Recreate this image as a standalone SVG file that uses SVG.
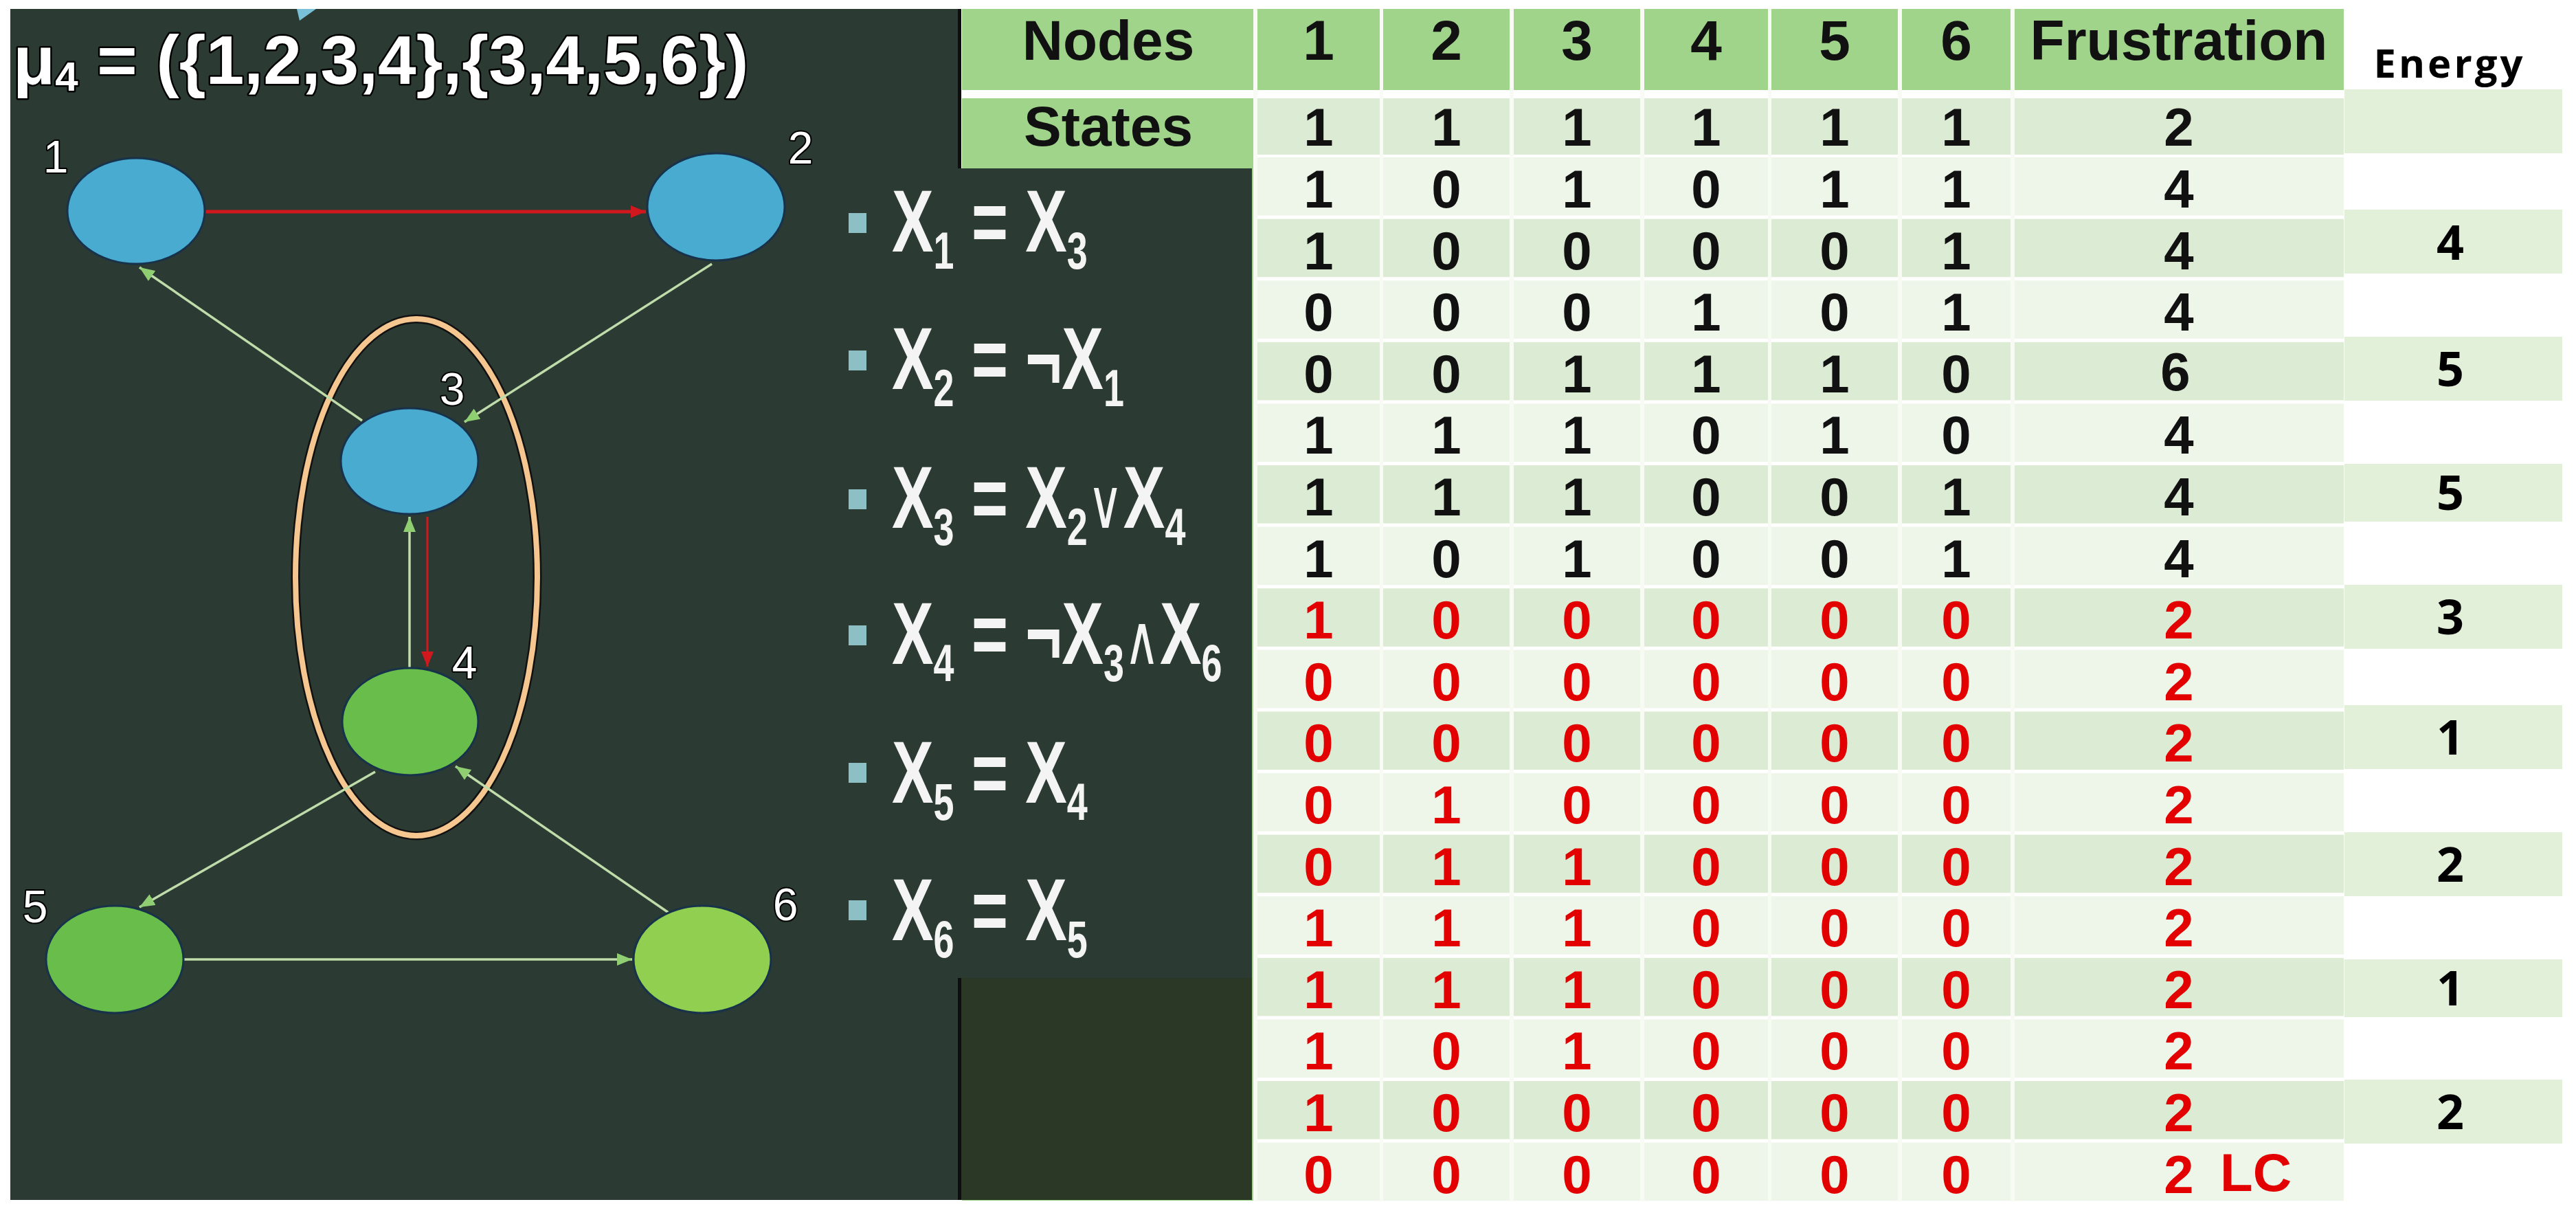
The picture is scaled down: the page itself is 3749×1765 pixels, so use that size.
<svg xmlns="http://www.w3.org/2000/svg" width="3749" height="1765" viewBox="0 0 3749 1765">
<defs>
<style>
.panel{fill:#2b3a33}
.nb{fill:#4aabd0;stroke:#17324a;stroke-width:3}
.ng{fill:#69bd4a;stroke:#17324a;stroke-width:3}
.ng2{fill:#91cf50;stroke:#17324a;stroke-width:3}
.nl{font-family:"Liberation Sans",Arial,sans-serif;font-size:66px;fill:#fff;stroke:#000;stroke-width:4;paint-order:stroke;stroke-linejoin:round;text-anchor:middle}
.title{font-family:"Liberation Sans",Arial,sans-serif;font-weight:bold;font-size:100px;fill:#fff;stroke:#000;stroke-width:5;paint-order:stroke;stroke-linejoin:round}
.eg{fill:none;stroke:#bfdcaa;stroke-width:3.5}
.er{fill:none;stroke:#d0181e}
.bul{font-family:"Liberation Sans",Arial,"DejaVu Sans",sans-serif;font-weight:bold;font-size:128px;fill:#f4f4f4}
.sb{font-size:76px}
.op{font-size:100px;font-weight:normal;font-family:"DejaVu Sans",sans-serif}
.bq{fill:#8dc0c4}
.hd{fill:#a0d48b}
.rl{fill:#eef6ea}
.rd{fill:#dcebd3}
.vl{fill:#f7fbf4}
.t{font-family:"Liberation Sans",Arial,sans-serif;font-weight:bold;font-size:78px;text-anchor:middle;fill:#111}
.h{font-size:82px}
.r{fill:#e30000}
.en{fill:#e2efd9}
.et{font-family:"Open Sans","Noto Sans",sans-serif;font-weight:bold;text-anchor:middle;fill:#000;font-size:70px}
</style>
<marker id="ag" viewBox="0 0 22 18" refX="22" refY="9" markerWidth="22" markerHeight="18" markerUnits="userSpaceOnUse" orient="auto"><path d="M0,0 L22,9 L0,18 z" fill="#8fcf72"/></marker>
<marker id="ar" viewBox="0 0 22 18" refX="22" refY="9" markerWidth="22" markerHeight="18" markerUnits="userSpaceOnUse" orient="auto"><path d="M0,0 L22,9 L0,18 z" fill="#d0181e"/></marker>
</defs>
<rect x="0" y="0" width="3749" height="1765" fill="#fff"/>

<g id="table">
<rect class="hd" x="1400" y="13" width="2011" height="118"/>
<rect class="rd" x="1400" y="143" width="2011" height="82"/>
<rect class="rl" x="1400" y="229" width="2011" height="84.6"/>
<rect class="rd" x="1400" y="318.6" width="2011" height="84.6"/>
<rect class="rl" x="1400" y="408.2" width="2011" height="84.6"/>
<rect class="rd" x="1400" y="497.8" width="2011" height="84.6"/>
<rect class="rl" x="1400" y="587.4" width="2011" height="84.6"/>
<rect class="rd" x="1400" y="677" width="2011" height="84.6"/>
<rect class="rl" x="1400" y="766.6" width="2011" height="84.6"/>
<rect class="rd" x="1400" y="856.2" width="2011" height="84.6"/>
<rect class="rl" x="1400" y="945.8" width="2011" height="84.6"/>
<rect class="rd" x="1400" y="1035.4" width="2011" height="84.6"/>
<rect class="rl" x="1400" y="1125" width="2011" height="84.6"/>
<rect class="rd" x="1400" y="1214.6" width="2011" height="84.6"/>
<rect class="rl" x="1400" y="1304.2" width="2011" height="84.6"/>
<rect class="rd" x="1400" y="1393.8" width="2011" height="84.6"/>
<rect class="rl" x="1400" y="1483.4" width="2011" height="84.6"/>
<rect class="rd" x="1400" y="1573" width="2011" height="84.6"/>
<rect class="rl" x="1400" y="1662.6" width="2011" height="84.6"/>
<rect class="hd" x="1400" y="143" width="424" height="1604"/>
<rect class="vl" x="1824" y="13" width="6" height="1735"/>
<rect class="vl" x="2008" y="13" width="5" height="1735"/>
<rect class="vl" x="2197" y="13" width="6" height="1735"/>
<rect class="vl" x="2387" y="13" width="6" height="1735"/>
<rect class="vl" x="2573" y="13" width="5" height="1735"/>
<rect class="vl" x="2762" y="13" width="6" height="1735"/>
<rect class="vl" x="2926" y="13" width="6" height="1735"/>

<text class="t h" x="1613" y="87">Nodes</text>
<text class="t h" x="1919" y="87">1</text>
<text class="t h" x="2105" y="87">2</text>
<text class="t h" x="2295" y="87">3</text>
<text class="t h" x="2483" y="87">4</text>
<text class="t h" x="2670" y="87">5</text>
<text class="t h" x="2847" y="87">6</text>
<text class="t h" x="3171" y="87">Frustration</text>

<text class="t h" x="1613" y="212">States</text>
<g><text class="t" x="1919" y="212">1</text><text class="t" x="2105" y="212">1</text><text class="t" x="2295" y="212">1</text><text class="t" x="2483" y="212">1</text><text class="t" x="2670" y="212">1</text><text class="t" x="2847" y="212">1</text><text class="t" x="3171" y="212">2</text></g>
<g><text class="t" x="1919" y="302">1</text><text class="t" x="2105" y="302">0</text><text class="t" x="2295" y="302">1</text><text class="t" x="2483" y="302">0</text><text class="t" x="2670" y="302">1</text><text class="t" x="2847" y="302">1</text><text class="t" x="3171" y="302">4</text></g>
<g><text class="t" x="1919" y="391.6">1</text><text class="t" x="2105" y="391.6">0</text><text class="t" x="2295" y="391.6">0</text><text class="t" x="2483" y="391.6">0</text><text class="t" x="2670" y="391.6">0</text><text class="t" x="2847" y="391.6">1</text><text class="t" x="3171" y="391.6">4</text></g>
<g><text class="t" x="1919" y="481.2">0</text><text class="t" x="2105" y="481.2">0</text><text class="t" x="2295" y="481.2">0</text><text class="t" x="2483" y="481.2">1</text><text class="t" x="2670" y="481.2">0</text><text class="t" x="2847" y="481.2">1</text><text class="t" x="3171" y="481.2">4</text></g>
<g><text class="t" x="1919" y="570.8">0</text><text class="t" x="2105" y="570.8">0</text><text class="t" x="2295" y="570.8">1</text><text class="t" x="2483" y="570.8">1</text><text class="t" x="2670" y="570.8">1</text><text class="t" x="2847" y="570.8">0</text><text class="t" x="3166" y="568">6</text></g>
<g><text class="t" x="1919" y="660.4">1</text><text class="t" x="2105" y="660.4">1</text><text class="t" x="2295" y="660.4">1</text><text class="t" x="2483" y="660.4">0</text><text class="t" x="2670" y="660.4">1</text><text class="t" x="2847" y="660.4">0</text><text class="t" x="3171" y="660.4">4</text></g>
<g><text class="t" x="1919" y="750">1</text><text class="t" x="2105" y="750">1</text><text class="t" x="2295" y="750">1</text><text class="t" x="2483" y="750">0</text><text class="t" x="2670" y="750">0</text><text class="t" x="2847" y="750">1</text><text class="t" x="3171" y="750">4</text></g>
<g><text class="t" x="1919" y="839.6">1</text><text class="t" x="2105" y="839.6">0</text><text class="t" x="2295" y="839.6">1</text><text class="t" x="2483" y="839.6">0</text><text class="t" x="2670" y="839.6">0</text><text class="t" x="2847" y="839.6">1</text><text class="t" x="3171" y="839.6">4</text></g>
<g><text class="t r" x="1919" y="929.2">1</text><text class="t r" x="2105" y="929.2">0</text><text class="t r" x="2295" y="929.2">0</text><text class="t r" x="2483" y="929.2">0</text><text class="t r" x="2670" y="929.2">0</text><text class="t r" x="2847" y="929.2">0</text><text class="t r" x="3171" y="929.2">2</text></g>
<g><text class="t r" x="1919" y="1018.8">0</text><text class="t r" x="2105" y="1018.8">0</text><text class="t r" x="2295" y="1018.8">0</text><text class="t r" x="2483" y="1018.8">0</text><text class="t r" x="2670" y="1018.8">0</text><text class="t r" x="2847" y="1018.8">0</text><text class="t r" x="3171" y="1018.8">2</text></g>
<g><text class="t r" x="1919" y="1108.4">0</text><text class="t r" x="2105" y="1108.4">0</text><text class="t r" x="2295" y="1108.4">0</text><text class="t r" x="2483" y="1108.4">0</text><text class="t r" x="2670" y="1108.4">0</text><text class="t r" x="2847" y="1108.4">0</text><text class="t r" x="3171" y="1108.4">2</text></g>
<g><text class="t r" x="1919" y="1198">0</text><text class="t r" x="2105" y="1198">1</text><text class="t r" x="2295" y="1198">0</text><text class="t r" x="2483" y="1198">0</text><text class="t r" x="2670" y="1198">0</text><text class="t r" x="2847" y="1198">0</text><text class="t r" x="3171" y="1198">2</text></g>
<g><text class="t r" x="1919" y="1287.6">0</text><text class="t r" x="2105" y="1287.6">1</text><text class="t r" x="2295" y="1287.6">1</text><text class="t r" x="2483" y="1287.6">0</text><text class="t r" x="2670" y="1287.6">0</text><text class="t r" x="2847" y="1287.6">0</text><text class="t r" x="3171" y="1287.6">2</text></g>
<g><text class="t r" x="1919" y="1377.2">1</text><text class="t r" x="2105" y="1377.2">1</text><text class="t r" x="2295" y="1377.2">1</text><text class="t r" x="2483" y="1377.2">0</text><text class="t r" x="2670" y="1377.2">0</text><text class="t r" x="2847" y="1377.2">0</text><text class="t r" x="3171" y="1377.2">2</text></g>
<g><text class="t r" x="1919" y="1466.8">1</text><text class="t r" x="2105" y="1466.8">1</text><text class="t r" x="2295" y="1466.8">1</text><text class="t r" x="2483" y="1466.8">0</text><text class="t r" x="2670" y="1466.8">0</text><text class="t r" x="2847" y="1466.8">0</text><text class="t r" x="3171" y="1466.8">2</text></g>
<g><text class="t r" x="1919" y="1556.4">1</text><text class="t r" x="2105" y="1556.4">0</text><text class="t r" x="2295" y="1556.4">1</text><text class="t r" x="2483" y="1556.4">0</text><text class="t r" x="2670" y="1556.4">0</text><text class="t r" x="2847" y="1556.4">0</text><text class="t r" x="3171" y="1556.4">2</text></g>
<g><text class="t r" x="1919" y="1646">1</text><text class="t r" x="2105" y="1646">0</text><text class="t r" x="2295" y="1646">0</text><text class="t r" x="2483" y="1646">0</text><text class="t r" x="2670" y="1646">0</text><text class="t r" x="2847" y="1646">0</text><text class="t r" x="3171" y="1646">2</text></g>
<g><text class="t r" x="1919" y="1735.6">0</text><text class="t r" x="2105" y="1735.6">0</text><text class="t r" x="2295" y="1735.6">0</text><text class="t r" x="2483" y="1735.6">0</text><text class="t r" x="2670" y="1735.6">0</text><text class="t r" x="2847" y="1735.6">0</text><text class="t r" x="3171" y="1735.6">2</text></g>
<text class="t r" x="3231" y="1733" style="text-anchor:start;font-size:78px">LC</text>
</g>

<g id="energy">
<text class="et" x="3565" y="113" style="font-size:58px;letter-spacing:4px">Energy</text>
<rect class="en" x="3412" y="130" width="317" height="93"/>
<rect class="en" x="3412" y="305" width="317" height="93"/>
<rect class="en" x="3412" y="490" width="317" height="93"/>
<rect class="en" x="3412" y="675" width="317" height="84"/>
<rect class="en" x="3412" y="851" width="317" height="93"/>
<rect class="en" x="3412" y="1026" width="317" height="93"/>
<rect class="en" x="3412" y="1211" width="317" height="93"/>
<rect class="en" x="3412" y="1396" width="317" height="84"/>
<rect class="en" x="3412" y="1571" width="317" height="93"/>
<text class="et" x="3566" y="378">4</text>
<text class="et" x="3566" y="562">5</text>
<text class="et" x="3566" y="742">5</text>
<text class="et" x="3566" y="923">3</text>
<text class="et" x="3566" y="1098">1</text>
<text class="et" x="3566" y="1283">2</text>
<text class="et" x="3566" y="1463">1</text>
<text class="et" x="3566" y="1643">2</text>
</g>

<g id="panels">
<rect class="panel" x="15" y="13" width="1381" height="1733"/>
<rect x="1394" y="13" width="5" height="1733" fill="#0c0f0d"/>
<rect class="panel" x="1150" y="245" width="672" height="1178"/>
<rect x="1399" y="1423" width="423" height="323" fill="#2b3826"/>
<polygon points="432,13 460,13 436,30" fill="#79c1d8"/>
</g>

<text class="title" x="19" y="122">μ<tspan style="font-size:60px" dy="10">4</tspan><tspan dy="-10"> = ({1,2,3,4},{3,4,5,6})</tspan></text>

<g id="bullets">
<rect class="bq" x="1235" y="310" width="26" height="29"/>
<rect class="bq" x="1235" y="510" width="26" height="29"/>
<rect class="bq" x="1235" y="712" width="26" height="29"/>
<rect class="bq" x="1235" y="910" width="26" height="29"/>
<rect class="bq" x="1235" y="1110" width="26" height="29"/>
<rect class="bq" x="1235" y="1310" width="26" height="29"/>
<text class="bul" transform="translate(1298,366) scale(0.71,1)">X<tspan class="sb" dy="25">1</tspan><tspan dy="-25"> = X</tspan><tspan class="sb" dy="25">3</tspan></text>
<text class="bul" transform="translate(1298,566) scale(0.71,1)">X<tspan class="sb" dy="25">2</tspan><tspan dy="-25"> = ¬X</tspan><tspan class="sb" dy="25">1</tspan></text>
<text class="bul" transform="translate(1298,768) scale(0.71,1)">X<tspan class="sb" dy="25">3</tspan><tspan dy="-25"> = X</tspan><tspan class="sb" dy="25">2</tspan><tspan class="op" dy="-25">∨</tspan><tspan>X</tspan><tspan class="sb" dy="25">4</tspan></text>
<text class="bul" transform="translate(1298,966) scale(0.71,1)">X<tspan class="sb" dy="25">4</tspan><tspan dy="-25"> = ¬X</tspan><tspan class="sb" dy="25">3</tspan><tspan class="op" dy="-25">∧</tspan><tspan>X</tspan><tspan class="sb" dy="25">6</tspan></text>
<text class="bul" transform="translate(1298,1168) scale(0.71,1)">X<tspan class="sb" dy="25">5</tspan><tspan dy="-25"> = X</tspan><tspan class="sb" dy="25">4</tspan></text>
<text class="bul" transform="translate(1298,1368) scale(0.71,1)">X<tspan class="sb" dy="25">6</tspan><tspan dy="-25"> = X</tspan><tspan class="sb" dy="25">5</tspan></text>
</g>

<g id="group-ellipse">
<ellipse cx="606" cy="840" rx="176" ry="376" fill="none" stroke="#111" stroke-width="13"/>
<ellipse cx="606" cy="840" rx="176" ry="376" fill="none" stroke="#f6c690" stroke-width="8"/>
</g>

<g id="connectors">
<path class="er" d="M299,308 L940,308" stroke-width="5" marker-end="url(#ar)"/>
<path class="eg" d="M527,612 L203,389" marker-end="url(#ag)"/>
<path class="eg" d="M1036,384 L676,614" marker-end="url(#ag)"/>
<path class="eg" d="M596,972 L596,752" marker-end="url(#ag)"/>
<path class="er" d="M622,752 L622,970" stroke-width="3" marker-end="url(#ar)"/>
<path class="eg" d="M546,1123 L203,1320" marker-end="url(#ag)"/>
<path class="eg" d="M973,1328 L663,1115" marker-end="url(#ag)"/>
<path class="eg" d="M268,1396 L920,1396" marker-end="url(#ag)"/>
</g>

<g id="node1"><ellipse class="nb" cx="198" cy="307" rx="100" ry="77"/><text class="nl" x="81" y="251">1</text></g>
<g id="node2"><ellipse class="nb" cx="1042" cy="301" rx="100" ry="78"/><text class="nl" x="1165" y="238">2</text></g>
<g id="node3"><ellipse class="nb" cx="596" cy="671" rx="100" ry="77"/><text class="nl" x="658" y="589">3</text></g>
<g id="node4"><ellipse class="ng" cx="597" cy="1050" rx="99" ry="78"/><text class="nl" x="676" y="987">4</text></g>
<g id="node5"><ellipse class="ng" cx="167" cy="1396" rx="100" ry="78"/><text class="nl" x="51" y="1342">5</text></g>
<g id="node6"><ellipse class="ng2" cx="1022" cy="1396" rx="100" ry="78"/><text class="nl" x="1143" y="1339">6</text></g>
</svg>
